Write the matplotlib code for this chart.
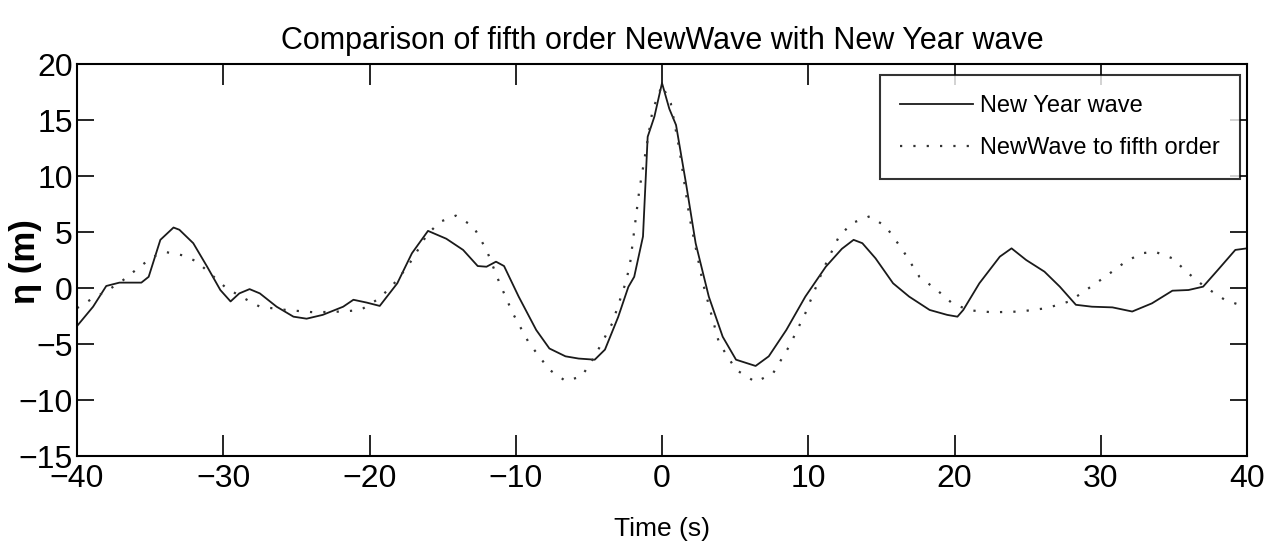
import matplotlib
matplotlib.use("Agg")
import matplotlib.pyplot as plt

plt.rcParams['font.family'] = ['Liberation Sans Narrow', 'Liberation Sans', 'DejaVu Sans']

# New Year wave (measured record), time in s, elevation in m
t_nyw = [-40.0, -38.9, -38.0, -37.1, -35.6, -35.1, -34.3, -33.4, -33.0, -32.05, -31.1, -30.2,
         -29.5, -28.9, -28.2, -27.5, -26.35, -25.2, -24.3, -23.2, -21.8, -21.1, -20.2, -19.3,
         -18.1, -17.1, -16.0, -14.75, -13.6, -12.6, -12.0, -11.35, -10.8, -9.8, -8.6, -7.7,
         -6.6, -5.7, -4.6, -3.9, -3.0, -2.3, -1.9, -1.3, -0.98, -0.52, 0.0, 0.5, 0.96, 1.64,
         2.3, 3.2, 4.15, 5.06, 6.4, 7.3, 8.5, 9.8, 11.2, 12.3, 13.1, 13.7, 14.6, 15.8, 16.9,
         18.3, 19.5, 20.2, 20.6, 21.7, 23.1, 23.9, 24.9, 26.15, 27.2, 28.3, 29.4, 30.8, 32.15,
         33.5, 34.9, 36.0, 37.0, 38.0, 39.2, 40.0]
eta_nyw = [-3.4, -1.67, 0.18, 0.48, 0.48, 1.0, 4.3, 5.4, 5.2, 4.0, 1.9, -0.18,
           -1.2, -0.48, -0.1, -0.48, -1.67, -2.56, -2.74, -2.4, -1.67, -1.05, -1.3, -1.6,
           0.42, 3.1, 5.1, 4.4, 3.4, 1.96, 1.9, 2.35, 1.96, -0.77, -3.75, -5.4,
           -6.1, -6.3, -6.4, -5.5, -2.6, 0.1, 1.0, 4.6, 13.5, 15.3, 18.3, 16.0, 14.55, 9.35,
           4.0, -0.77, -4.35, -6.4, -6.96, -6.1, -3.75, -0.77, 1.9, 3.5, 4.3, 4.0, 2.65, 0.42, -0.77,
           -1.96, -2.4, -2.56, -1.96, 0.42, 2.8, 3.54, 2.5, 1.46, 0.12, -1.5, -1.67, -1.73, -2.1,
           -1.37, -0.24, -0.18, 0.12, 1.6, 3.4, 3.54]

# NewWave to fifth order
t_nw = [-40.0, -38.9, -38.0, -36.85, -35.7, -34.8, -33.9, -32.7, -31.8, -30.9, -29.8, -28.6,
        -27.5, -25.7, -23.8, -21.8, -20.6, -19.3, -18.1, -17.1, -16.1, -15.2, -14.1, -12.9,
        -12.0, -11.1, -10.2, -9.1, -7.7, -6.6, -5.5, -4.6, -3.4, -2.5, -2.2, -1.55, -1.1,
        -0.64, 0.0, 0.6, 1.2, 1.87, 2.8, 3.9, 5.06, 6.4, 7.6, 8.7, 9.8, 11.0, 12.1, 13.0,
        14.2, 15.3, 16.45, 17.6, 18.8, 19.9, 21.1, 22.6, 24.5, 26.3, 27.85, 29.0, 30.3, 31.7,
        32.8, 33.7, 34.9, 36.0, 37.1, 38.5, 40.0]
eta_nw = [-1.8, -0.9, -0.3, 0.7, 1.9, 2.8, 3.2, 2.9, 2.35, 1.3, 0.0, -0.9,
          -1.67, -1.96, -2.17, -2.1, -1.96, -0.9, 0.7, 2.5, 4.7, 5.9, 6.46, 5.5,
          3.4, 0.42, -2.26, -4.9, -7.3, -8.3, -7.9, -6.1, -3.15, 0.42, 2.0, 8.75, 12.3,
          15.9, 18.1, 16.5, 12.3, 6.4, 0.42, -4.9, -7.3, -8.4, -7.6, -5.2, -2.26, 1.6, 4.6, 5.8,
          6.4, 5.5, 3.4, 1.0, -0.18, -1.43, -2.0, -2.17, -2.1, -1.8, -1.2, -0.18, 1.0, 2.35,
          3.1, 3.24, 2.65, 1.3, 0.12, -1.07, -1.73]

x_ticks = [-40, -30, -20, -10, 0, 10, 20, 30, 40]
y_ticks = [-15, -10, -5, 0, 5, 10, 15, 20]

W, H = 1274, 555
fig = plt.figure(figsize=(W / 100, H / 100), dpi=100)
ax = fig.add_axes([77 / W, 1 - 456 / H, 1170 / W, 392 / H])

ax.plot(t_nyw, eta_nyw, color="#1a1a1a", linewidth=1.3, label="New Year wave")
ax.plot(t_nw, eta_nw, color="#333333", linewidth=1.6, linestyle=(0, (1, 5)),
        label="NewWave to fifth order")

ax.set_xlim(-40, 40)
ax.set_ylim(-15, 20)
ax.set_xticks(x_ticks)
ax.set_yticks(y_ticks)
ax.tick_params(axis="both", direction="in", top=True, right=True, labelsize=23, width=1.2)
ax.tick_params(axis="x", length=15, pad=6)
ax.tick_params(axis="y", length=12, pad=3)
for s in ax.spines.values():
    s.set_linewidth(1.5)

ax.set_title("Comparison of fifth order NewWave with New Year wave", fontsize=22, pad=11)
ax.set_xlabel("Time (s)", fontsize=19, labelpad=16)
ax.set_ylabel("η (m)", fontsize=25, fontweight="bold")
ax.yaxis.set_label_coords(-0.030, 0.495)

# legend box: right edge at x=1240 px, top at y=75 px
leg = ax.legend(loc="upper right", bbox_to_anchor=(1240 / W, 1 - 75 / H),
                bbox_transform=fig.transFigure, borderaxespad=0,
                fontsize=17, frameon=True, fancybox=False, edgecolor="black",
                handlelength=3.1, handletextpad=0.3, borderpad=0.85, labelspacing=0.85)
leg.get_frame().set_linewidth(1.5)

fig.savefig("out.png", dpi=100)
